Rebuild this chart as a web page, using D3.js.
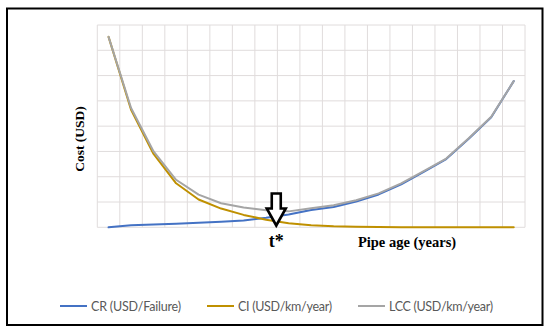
<!DOCTYPE html>
<html>
<head>
<meta charset="utf-8">
<script src="https://cdn.jsdelivr.net/npm/d3@7"></script>
<style>
  html, body { margin: 0; padding: 0; background: #fff; }
  svg { display: block; }
</style>
</head>
<body>
<svg id="chart" width="550" height="334"></svg>
<script>
const categories = ["1","2","3","4","5","6","7","8","9","10","11","12","13","14","15","16","17","18","19"];
const crValues  = [0, 0.08, 0.11, 0.14, 0.18, 0.22, 0.27, 0.38, 0.51, 0.68, 0.80, 1.02, 1.30, 1.70, 2.19, 2.70, 3.50, 4.35, 5.78];
const ciValues  = [7.53, 4.65, 2.90, 1.74, 1.10, 0.74, 0.49, 0.30, 0.16, 0.08, 0.04, 0.02, 0.01, 0, 0, 0, 0, 0, 0];
const lccValues = [7.53, 4.72, 3.00, 1.88, 1.29, 0.95, 0.78, 0.67, 0.63, 0.75, 0.87, 1.07, 1.34, 1.74, 2.22, 2.72, 3.52, 4.37, 5.78];
const yTicks = [0,1,2,3,4,5,6,7,8];
const seriesNames = ["CR (USD/Failure)", "CI (USD/km/year)", "LCC (USD/km/year)"];
const seriesColors = ["#4472C4", "#BF9000", "#A5A5A5"];
const xTitle = "Pipe age (years)";
const yTitle = "Cost (USD)";
const markerLabel = "t*";
const markerPos = 7.45; // category index position of the t* arrow

const svg = d3.select("#chart");

// outer border
svg.append("rect").attr("x", 7).attr("y", 8.5).attr("width", 535.5).attr("height", 316.5)
  .attr("fill", "none").attr("stroke", "#000").attr("stroke-width", 2);

const x = d3.scaleBand().domain(categories).range([97.3, 525]).padding(0);
const y = d3.scaleLinear().domain([0, 8]).range([227.3, 25]);

const g = svg.append("g");

// horizontal gridlines
g.append("g").selectAll("line").data(yTicks).join("line")
  .attr("x1", x.range()[0]).attr("x2", x.range()[1])
  .attr("y1", d => y(d)).attr("y2", d => y(d))
  .attr("stroke", "#E0DCDC").attr("stroke-width", 1);

// vertical gridlines at band edges
const edges = categories.map(c => x(c)).concat([x.range()[1]]);
g.append("g").selectAll("line").data(edges).join("line")
  .attr("x1", d => d).attr("x2", d => d)
  .attr("y1", y(8)).attr("y2", y(0))
  .attr("stroke", "#E0DCDC").attr("stroke-width", 1);

const cx = c => x(c) + x.bandwidth() / 2;
const line = d3.line().x((d, i) => cx(categories[i])).y(d => y(d));

[crValues, ciValues, lccValues].forEach((vals, k) => {
  g.append("path").datum(vals)
    .attr("d", line)
    .attr("fill", "none")
    .attr("stroke", seriesColors[k])
    .attr("stroke-width", 2)
    .attr("stroke-linejoin", "round")
    .attr("stroke-linecap", "round");
});

// t* arrow (hollow down arrow)
const ax = x.range()[0] + x.bandwidth() * (markerPos + 0.5);
const arrow = [
  [ax - 4.5, 193.5], [ax + 4.5, 193.5], [ax + 4.5, 208.5], [ax + 9.5, 208.5],
  [ax, 225.5], [ax - 9.5, 208.5], [ax - 4.5, 208.5]
];
svg.append("path")
  .attr("d", d3.line()(arrow) + "Z")
  .attr("fill", "#fff").attr("stroke", "#000").attr("stroke-width", 2.6)
  .attr("stroke-linejoin", "miter");

svg.append("text").attr("x", ax).attr("y", 247)
  .attr("text-anchor", "middle")
  .attr("font-family", "Liberation Serif, serif").attr("font-weight", "bold")
  .attr("font-size", 18).attr("fill", "#000").text(markerLabel);

svg.append("text").attr("x", 407).attr("y", 247)
  .attr("text-anchor", "middle")
  .attr("font-family", "Liberation Serif, serif").attr("font-weight", "bold")
  .attr("font-size", 14.5).attr("fill", "#000").text(xTitle);

svg.append("text")
  .attr("transform", "translate(84,139) rotate(-90)")
  .attr("text-anchor", "middle")
  .attr("font-family", "Liberation Serif, serif").attr("font-weight", "bold")
  .attr("font-size", 13.5).attr("fill", "#000").text(yTitle);

// legend
const legendX = [60, 207, 358];
const legendW = [90, 94, 104];
const lg = svg.append("g");
seriesNames.forEach((name, k) => {
  lg.append("line").attr("x1", legendX[k]).attr("x2", legendX[k] + 27)
    .attr("y1", 306).attr("y2", 306)
    .attr("stroke", seriesColors[k]).attr("stroke-width", 2);
  lg.append("text").attr("x", legendX[k] + 31).attr("y", 310.5)
    .attr("font-family", "Lato, sans-serif").attr("font-size", 12.5)
    .attr("textLength", legendW[k]).attr("lengthAdjust", "spacing")
    .attr("fill", "#595959").text(name);
});
</script>
</body>
</html>
